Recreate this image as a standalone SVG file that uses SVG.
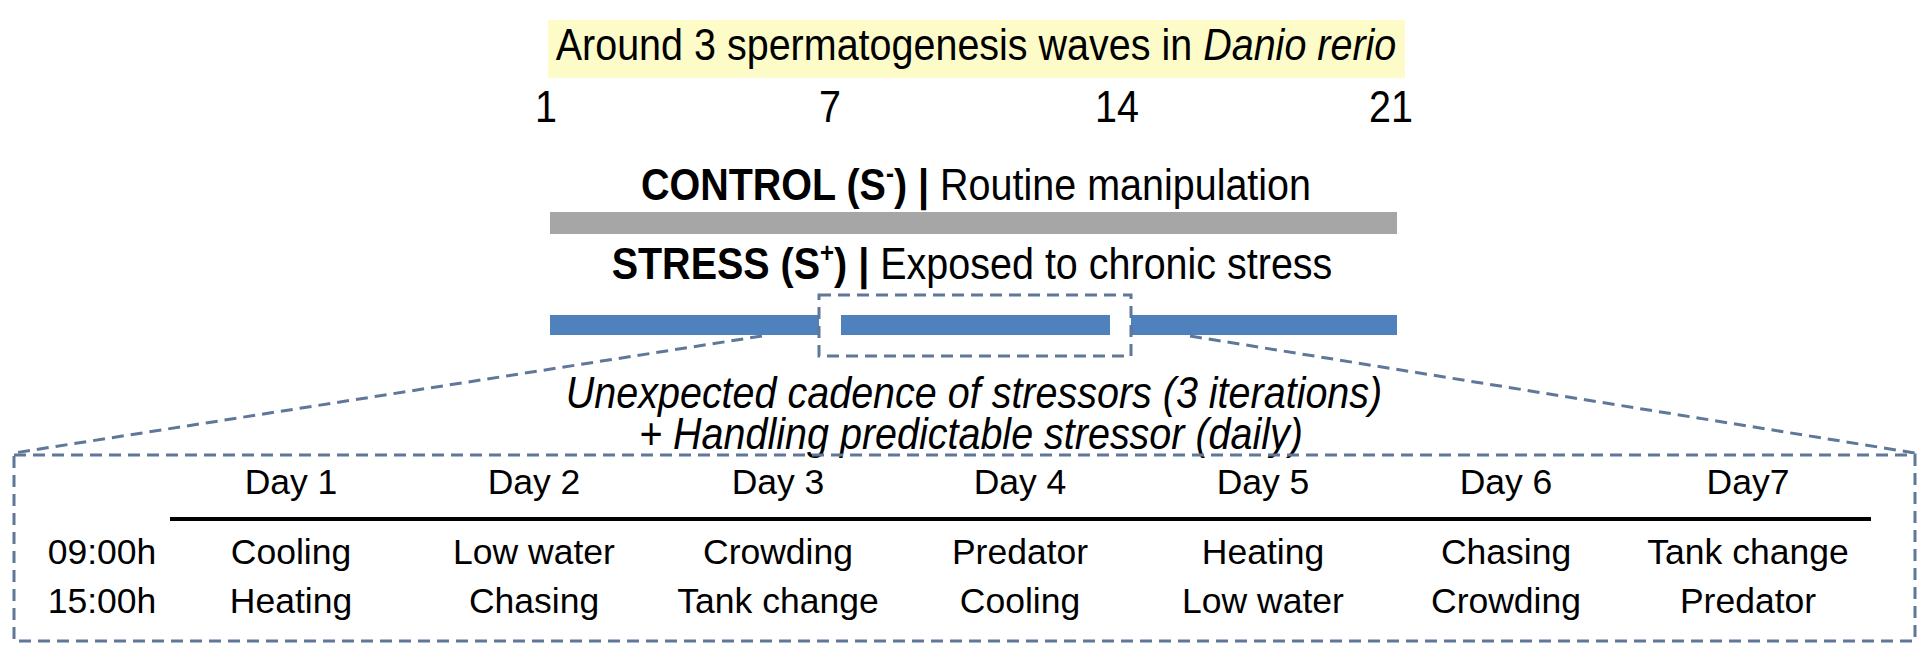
<svg xmlns="http://www.w3.org/2000/svg" width="1920" height="668" viewBox="0 0 1920 668">
<style>
text{font-family:"Liberation Sans",Arial,sans-serif;fill:#000}
.main{font-size:39.5px}
.tbl{font-size:35.5px;text-anchor:middle}
.dash{fill:none;stroke:#5f7799;stroke-width:3;stroke-dasharray:12 7}
.b{font-weight:bold}
</style>
<rect width="1920" height="668" fill="#fff"/>
<g id="title">
<rect x="548" y="20" width="857" height="58" fill="#fdfcc9"/>
<text class="main" transform="matrix(1 0 0 1.12 976 60)" x="0" y="0" text-anchor="middle">Around 3 spermatogenesis waves in <tspan font-style="italic">Danio rerio</tspan></text>
</g>
<g id="axis" class="main" text-anchor="middle">
<text transform="matrix(1 0 0 1.12 546 122)">1</text>
<text transform="matrix(1 0 0 1.12 830 122)">7</text>
<text transform="matrix(1 0 0 1.12 1117 122)">14</text>
<text transform="matrix(1 0 0 1.12 1391 122)">21</text>
</g>
<g id="control">
<text class="main" transform="matrix(1 0 0 1.12 976 200)" text-anchor="middle"><tspan class="b">CONTROL (S</tspan><tspan class="b" font-size="24" dy="-15">-</tspan><tspan class="b" dy="15">) |</tspan> Routine manipulation</text>
<rect x="550" y="212" width="847" height="22" fill="#a6a6a6"/>
</g>
<g id="stress">
<text class="main" transform="matrix(1 0 0 1.12 972 279)" text-anchor="middle"><tspan class="b">STRESS (S</tspan><tspan class="b" font-size="24" dy="-15">+</tspan><tspan class="b" dy="15">) |</tspan> Exposed to chronic stress</text>
<rect x="550" y="315" width="269" height="20" fill="#4f81bd"/>
<rect x="841" y="315" width="269" height="20" fill="#4f81bd"/>
<rect x="1131" y="315" width="266" height="20" fill="#4f81bd"/>
<rect class="dash" x="819" y="295" width="312" height="61"/>
</g>
<g id="connectors">
<line class="dash" x1="762" y1="336" x2="14" y2="453"/>
<line class="dash" x1="1190" y1="336" x2="1915" y2="453"/>
</g>
<g id="caption" class="main" text-anchor="middle" font-style="italic">
<text transform="matrix(1 0 0 1.12 974 408)">Unexpected cadence of stressors (3 iterations)</text>
<text transform="matrix(1 0 0 1.12 971 449)">+ Handling predictable stressor (daily)</text>
</g>
<g id="schedule">
<rect class="dash" x="14" y="455" width="1901" height="186"/>
<line x1="170" y1="519" x2="1871" y2="519" stroke="#000" stroke-width="4"/>
<g class="tbl">
<text x="291" y="494">Day 1</text>
<text x="534" y="494">Day 2</text>
<text x="778" y="494">Day 3</text>
<text x="1020" y="494">Day 4</text>
<text x="1263" y="494">Day 5</text>
<text x="1506" y="494">Day 6</text>
<text x="1748" y="494">Day7</text>
<text x="102" y="564">09:00h</text>
<text x="291" y="564">Cooling</text>
<text x="534" y="564">Low water</text>
<text x="778" y="564">Crowding</text>
<text x="1020" y="564">Predator</text>
<text x="1263" y="564">Heating</text>
<text x="1506" y="564">Chasing</text>
<text x="1748" y="564">Tank change</text>
<text x="102" y="613">15:00h</text>
<text x="291" y="613">Heating</text>
<text x="534" y="613">Chasing</text>
<text x="778" y="613">Tank change</text>
<text x="1020" y="613">Cooling</text>
<text x="1263" y="613">Low water</text>
<text x="1506" y="613">Crowding</text>
<text x="1748" y="613">Predator</text>
</g>
</g>
</svg>
